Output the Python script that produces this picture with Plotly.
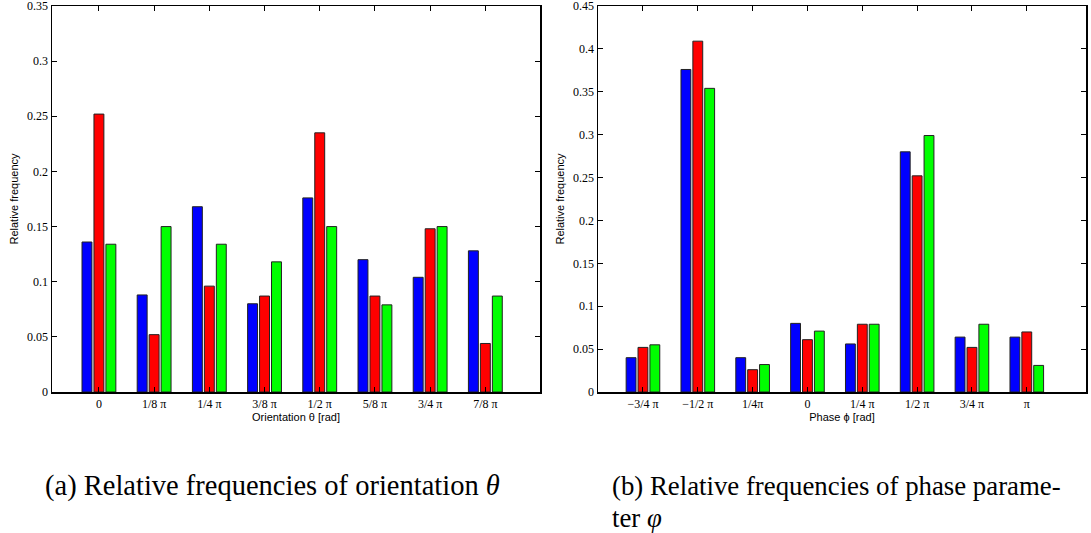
import plotly.graph_objects as go

# ---- data ----
orient_cats = ["0", "1/8 π", "1/4 π", "3/8 π", "1/2 π", "5/8 π", "3/4 π", "7/8 π"]
orient_blue = [0.136, 0.088, 0.168, 0.080, 0.176, 0.120, 0.104, 0.128]
orient_red = [0.252, 0.052, 0.096, 0.087, 0.235, 0.087, 0.148, 0.044]
orient_green = [0.134, 0.150, 0.134, 0.118, 0.150, 0.079, 0.150, 0.087]

phase_cats = ["−3/4 π", "−1/2 π", "1/4π", "0", "1/4 π", "1/2 π", "3/4 π", "π"]
phase_blue = [0.040, 0.376, 0.040, 0.080, 0.056, 0.280, 0.064, 0.064]
phase_red = [0.052, 0.409, 0.026, 0.061, 0.079, 0.252, 0.052, 0.070]
phase_green = [0.055, 0.354, 0.032, 0.071, 0.079, 0.299, 0.079, 0.031]

orient_yticks = [0, 0.05, 0.1, 0.15, 0.2, 0.25, 0.3, 0.35]
phase_yticks = [0, 0.05, 0.1, 0.15, 0.2, 0.25, 0.3, 0.35, 0.4, 0.45]

colors = ["#0000FF", "#FF0000", "#00FF00"]

W, H = 1091, 533

fig = go.Figure()

def add_bars(cats, series, xa, ya):
    for vals, col in zip(series, colors):
        fig.add_trace(go.Bar(
            x=cats, y=vals, xaxis=xa, yaxis=ya,
            marker=dict(color=col, line=dict(color="#222222", width=1)),
            showlegend=False, hoverinfo="skip",
        ))

add_bars(orient_cats, [orient_blue, orient_red, orient_green], "x", "y")
add_bars(phase_cats, [phase_blue, phase_red, phase_green], "x2", "y2")

tickfont = dict(family="Liberation Serif", size=12, color="black")
titlefont = dict(family="Liberation Sans", size=11, color="black")

def px_x(a, b):
    return [a / W, b / W]

def px_y(top, bottom):
    return [1 - bottom / H, 1 - top / H]

common_x = dict(
    type="category", showline=True, linecolor="black", linewidth=1.5,
    mirror="ticks", ticks="inside", ticklen=5, tickcolor="black", tickwidth=1,
    tickfont=tickfont, showgrid=False, zeroline=False, fixedrange=True,
    automargin=False, ticklabeloverflow="allow",
)
common_y = dict(
    showline=True, linecolor="black", linewidth=1.5, mirror="ticks",
    ticks="inside", ticklen=5, tickcolor="black", tickwidth=1, tickfont=tickfont,
    showgrid=False, zeroline=False, tickmode="array",
    automargin=False, fixedrange=True, ticklabeloverflow="allow",
)

fig.update_layout(
    width=W, height=H,
    margin=dict(l=0, r=0, t=0, b=0),
    paper_bgcolor="white", plot_bgcolor="white",
    barmode="group", bargap=0.35, bargroupgap=0.17,
    xaxis=dict(common_x, domain=px_x(52, 540), range=[-0.85, 7.99],
               title=dict(text="Orientation θ [rad]", font=titlefont, standoff=2)),
    yaxis=dict(common_y, domain=px_y(6, 392), range=[0, 0.35],
               tickvals=orient_yticks, ticktext=[f"{v:g}" for v in orient_yticks],
               title=dict(text="Relative frequency", font=titlefont, standoff=6)),
    xaxis2=dict(common_x, domain=px_x(598, 1086), range=[-0.82, 8.08], anchor="y2",
                title=dict(text="Phase ϕ [rad]", font=titlefont, standoff=2)),
    yaxis2=dict(common_y, domain=px_y(6, 392), range=[0, 0.45], anchor="x2",
                tickvals=phase_yticks, ticktext=[f"{v:g}" for v in phase_yticks],
                title=dict(text="Relative frequency", font=titlefont, standoff=6)),
)

fig.add_annotation(text="(a) Relative frequencies of orientation <i>θ</i>",
                   x=43 / W, y=1 - 486 / H, xref="paper", yref="paper",
                   xanchor="left", yanchor="middle", showarrow=False,
                   font=dict(family="Liberation Serif", size=28.5, color="black"))
fig.add_annotation(text="(b) Relative frequencies of phase parame-",
                   x=610 / W, y=1 - 486 / H, xref="paper", yref="paper",
                   xanchor="left", yanchor="middle", showarrow=False,
                   font=dict(family="Liberation Serif", size=26.8, color="black"))
fig.add_annotation(text="ter <i>φ</i>",
                   x=610 / W, y=1 - 518 / H, xref="paper", yref="paper",
                   xanchor="left", yanchor="middle", showarrow=False,
                   font=dict(family="Liberation Serif", size=26.8, color="black"))

fig.write_html("out.html", config={"displayModeBar": False, "staticPlot": True},
               post_script="document.body.style.margin='0px';")
